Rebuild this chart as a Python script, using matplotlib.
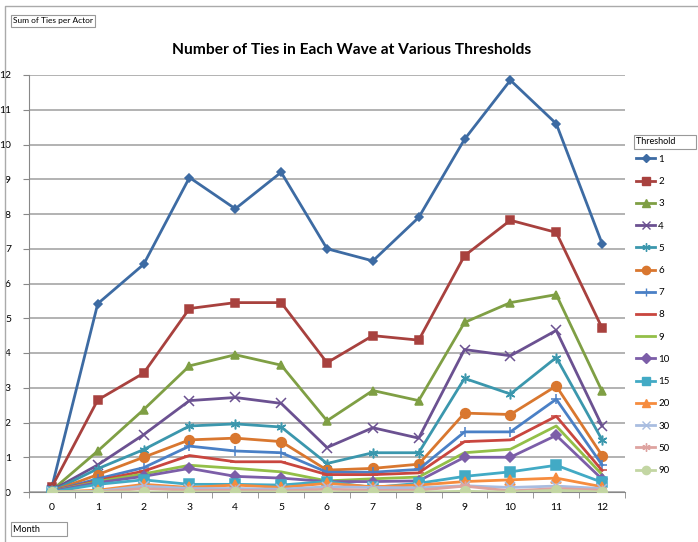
import matplotlib.pyplot as plt
from matplotlib.lines import Line2D
import numpy as np

plt.rcParams['font.family'] = ['Lato', 'DejaVu Sans']

# months on the category axis
months = list(range(13))

# sum of ties per actor, one list per threshold
thresholds = ["1", "2", "3", "4", "5", "6", "7", "8", "9", "10", "15", "20", "30", "50", "90"]
t1 = [0.15, 5.42, 6.55, 9.05, 8.15, 9.20, 7.00, 6.65, 7.90, 10.15, 11.85, 10.60, 7.15]
t2 = [0.15, 2.65, 3.42, 5.28, 5.45, 5.45, 3.72, 4.50, 4.37, 6.80, 7.82, 7.47, 4.72]
t3 = [0.05, 1.18, 2.37, 3.63, 3.95, 3.65, 2.05, 2.92, 2.63, 4.88, 5.45, 5.68, 2.90]
t4 = [0.05, 0.78, 1.65, 2.63, 2.72, 2.55, 1.28, 1.85, 1.55, 4.10, 3.92, 4.65, 1.90]
t5 = [0.02, 0.67, 1.22, 1.90, 1.96, 1.87, 0.82, 1.13, 1.13, 3.27, 2.82, 3.87, 1.50]
t6 = [0.02, 0.50, 1.00, 1.50, 1.55, 1.45, 0.63, 0.68, 0.80, 2.27, 2.23, 3.05, 1.05]
t7 = [0.02, 0.38, 0.70, 1.32, 1.18, 1.13, 0.57, 0.57, 0.65, 1.73, 1.73, 2.67, 0.78]
t8 = [0.02, 0.33, 0.60, 1.05, 0.87, 0.87, 0.50, 0.50, 0.55, 1.45, 1.50, 2.18, 0.62]
t9 = [0.02, 0.30, 0.52, 0.77, 0.68, 0.58, 0.32, 0.38, 0.43, 1.13, 1.23, 1.90, 0.50]
t10 = [0.02, 0.27, 0.45, 0.68, 0.45, 0.40, 0.30, 0.30, 0.32, 1.00, 1.00, 1.63, 0.37]
t15 = [0.0, 0.22, 0.35, 0.22, 0.22, 0.20, 0.30, 0.13, 0.25, 0.45, 0.58, 0.77, 0.28]
t20 = [0.0, 0.05, 0.22, 0.13, 0.20, 0.13, 0.25, 0.15, 0.20, 0.30, 0.35, 0.40, 0.15]
t30 = [0.0, 0.02, 0.17, 0.10, 0.10, 0.08, 0.15, 0.13, 0.12, 0.18, 0.13, 0.17, 0.10]
t50 = [0.0, 0.0, 0.10, 0.05, 0.05, 0.03, 0.08, 0.05, 0.05, 0.17, 0.03, 0.10, 0.05]
t90 = [0.0, 0.0, 0.0, 0.0, 0.0, 0.0, 0.0, 0.0, 0.0, 0.02, 0.0, 0.05, 0.0]
series = [t1, t2, t3, t4, t5, t6, t7, t8, t9, t10, t15, t20, t30, t50, t90]

colours = ["#3d6ba3", "#a8413e", "#7f9f44", "#6b5191", "#3b97ad", "#d9772f",
           "#4a80c6", "#c9463f", "#93bf48", "#7c5ea8", "#42aac5", "#f68c3e",
           "#a9bde0", "#dea3a0", "#c3d6a3"]
asterisk = (6, 2, 0)
markers = ["D", "s", "^", "x", asterisk, "o", "+", "_", None, "D", "s", "^", "x", asterisk, "o"]
msizes = [4.5, 6, 6, 6.5, 7, 7, 7, 7, 0, 5.5, 7, 6.5, 6.5, 7, 7]

fig = plt.figure(figsize=(6.98, 5.42), dpi=100)
ax = fig.add_axes([29 / 698, 50 / 542, 596 / 698, 417 / 542])

for vals, c, m, ms in zip(series, colours, markers, msizes):
    ax.plot(months, vals, color=c, lw=2, marker=m, markersize=ms,
            markeredgewidth=1.1, markeredgecolor=c, markerfacecolor=c, zorder=3)

ax.set_xlim(-0.5, 12.5)
ax.set_ylim(0, 12)
ax.set_yticks(range(13))
ax.set_xticks(months)
ax.set_xticks(np.arange(-0.5, 13, 1), minor=True)
ax.tick_params(axis='x', which='major', length=0, pad=8, labelsize=7.5)
ax.tick_params(axis='x', which='minor', length=4, color='#888888', direction='out')
ax.tick_params(axis='y', length=4, color='#888888', labelsize=7.5, pad=9)
ax.grid(axis='y', color='#a6a6a6', lw=1.2)
ax.set_axisbelow(True)
for side in ['top', 'right']:
    ax.spines[side].set_visible(False)
ax.spines['left'].set_color('#888888')
ax.spines['bottom'].set_color('#888888')

fig.text(352 / 698, 1 - 50 / 542, "Number of Ties in Each Wave at Various Thresholds",
         ha='center', va='center', fontsize=11.2, fontweight='bold')

# pivot field buttons
box = dict(boxstyle='square,pad=0.25', fc='white', ec='#999999', lw=0.8)
fig.text(13 / 698, 1 - 21 / 542, "Sum of Ties per Actor", fontsize=6, va='center', bbox=box)
fig.text(636 / 698, 1 - 142 / 542, "Threshold        ", fontsize=6.5, va='center', bbox=box)
fig.text(13 / 698, 1 - 529 / 542, "Month           ", fontsize=6.5, va='center', bbox=box)

# chart area border (top and left)
fig.add_artist(Line2D([5 / 698, 5 / 698, 1], [0, 1 - 6 / 542, 1 - 6 / 542],
                      transform=fig.transFigure, color='#aaaaaa', lw=1))

handles = [Line2D([0], [0], color=c, lw=2, marker=m, markersize=ms * 0.85,
                  markeredgecolor=c, markerfacecolor=c)
           for c, m, ms in zip(colours, markers, msizes)]
fig.legend(handles, thresholds, loc='upper left', bbox_to_anchor=(632 / 698, 1 - 151 / 542),
           frameon=False, fontsize=7, handlelength=2.0, handletextpad=0.3,
           labelspacing=1.36, borderaxespad=0)

fig.savefig("out.png", dpi=100)
